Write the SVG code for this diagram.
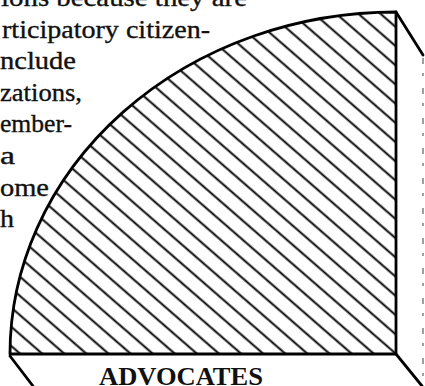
<svg xmlns="http://www.w3.org/2000/svg" width="425" height="386" viewBox="0 0 425 386">
  <style>
    .body { font-family: "Liberation Serif", "DejaVu Serif", serif; font-size: 25px; fill: #111; stroke: #111; stroke-width: 0.35; }
    .label { font-family: "Liberation Serif", "DejaVu Serif", serif; font-size: 26px; font-weight: bold; fill: #111; }
    .edge { fill: none; stroke: #000; stroke-width: 2.8; stroke-linecap: round; stroke-linejoin: round; }
    .faint { fill: none; stroke: #777; stroke-width: 1.4; stroke-dasharray: 6 9 3 12; }
  </style>
  <defs>
    <pattern id="hatch" patternUnits="userSpaceOnUse" width="40" height="14.5" patternTransform="rotate(41)">
      <line x1="-5" y1="7.25" x2="45" y2="7.25" stroke="#000" stroke-width="2"/>
    </pattern>
  </defs>
  <rect width="425" height="386" fill="#fff"/>

  <g id="text-block">
    <text class="body" x="1" y="6" textLength="246" lengthAdjust="spacingAndGlyphs">ions because they are</text>
    <text class="body" x="2" y="37.6" textLength="208" lengthAdjust="spacingAndGlyphs">rticipatory citizen-</text>
    <text class="body" x="0" y="69.2" textLength="76" lengthAdjust="spacingAndGlyphs">nclude</text>
    <text class="body" x="0" y="100.8" textLength="82" lengthAdjust="spacingAndGlyphs">zations,</text>
    <text class="body" x="0" y="132.4" textLength="72" lengthAdjust="spacingAndGlyphs">ember-</text>
    <text class="body" x="0" y="164" textLength="15" lengthAdjust="spacingAndGlyphs">a</text>
    <text class="body" x="0" y="195.6" textLength="49" lengthAdjust="spacingAndGlyphs">ome</text>
    <text class="body" x="0" y="227.2" textLength="14" lengthAdjust="spacingAndGlyphs">h</text>
  </g>

  <g id="quadrant">
    <path d="M10,354 L396,354 L396,12 A386,342 0 0 0 10,354 Z" fill="url(#hatch)"/>
    <path class="edge" d="M10,354 L396,354 L396,12 A386,342 0 0 0 10,354 Z"/>
  </g>

  <g id="slab-edges">
    <path class="edge" d="M396,12 L423,55"/>
    <path class="edge" d="M396,354 L422,386"/>
    <path class="edge" d="M10,356 L33,386"/>
    <path class="faint" d="M423,58 L423,386"/>
  </g>

  <g id="advocates">
    <text class="label" x="99" y="385" textLength="164" lengthAdjust="spacingAndGlyphs">ADVOCATES</text>
  </g>
</svg>
